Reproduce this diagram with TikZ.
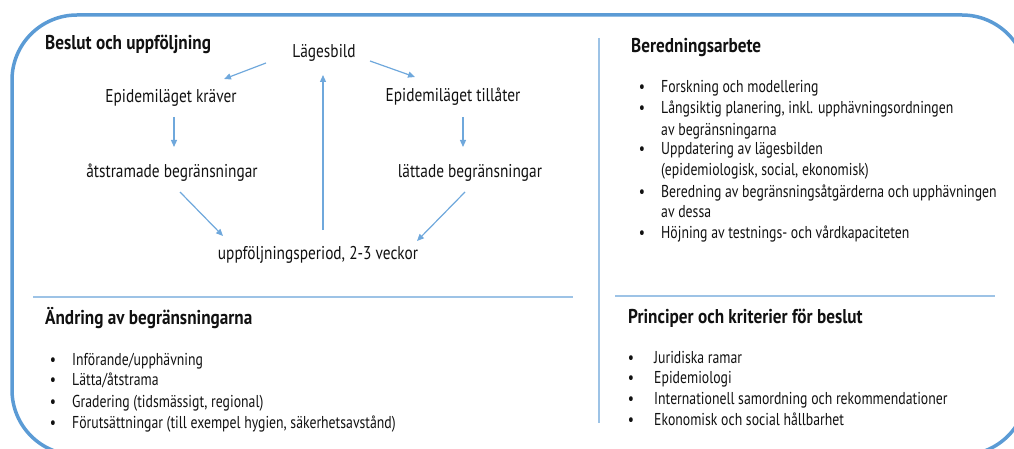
\documentclass[tikz,border=0pt]{standalone}
\usepackage{fontspec}
\setmainfont{PT Sans}[FakeStretch=0.80]
\newfontfamily\diagfont{PT Sans}[FakeStretch=0.83]
\newfontfamily\headfont{PT Sans}[FakeStretch=0.86]
\usetikzlibrary{arrows.meta}
\definecolor{bordc}{HTML}{5B9BD5}
\definecolor{divc}{HTML}{9DC3E6}
\definecolor{arrc}{HTML}{6FA8DC}
\definecolor{txtc}{HTML}{111111}
\begin{document}
\begin{tikzpicture}[x=1pt,y=-1pt,
  plain/.style={font=\fontsize{17.2}{20}\selectfont, text=txtc, inner sep=0pt},
  item/.style={plain, anchor=base west},
  bul/.style={plain, anchor=base},
  head/.style={font=\headfont\fontsize{20}{22}\selectfont\bfseries, text=txtc, inner sep=0pt, anchor=base west},
  box/.style={font=\diagfont\fontsize{18.5}{22}\selectfont, text=txtc, inner sep=0pt, text height=14pt, text depth=4pt, anchor=center},
  divider/.style={draw=divc, line width=1.3pt},
  arr/.style={draw=arrc, line width=1.2pt, -{Triangle[length=7pt,width=6pt]}}]
\useasboundingbox (0,0) rectangle (1014,449);
\begin{scope}
\clip (0,0) rectangle (1014,449);
\draw[bordc, line width=3.5pt, rounded corners=65pt] (12,15) rectangle (1027,455);
\end{scope}
% dividers
\draw[divider] (599,38) -- (599,423);
\draw[divider] (33,297) -- (573,297);
\draw[divider] (615,296) -- (995,296);
% headings
\node[head] (h1) at (45,50) {Beslut och uppföljning};
\node[head] (h2) at (631,53) {Beredningsarbete};
\node[head] (h3) at (45,324) {Ändring av begränsningarna};
\node[head] (h4) at (628,323) {Principer och kriterier för beslut};
% cycle diagram
\node[box] (lag) at (324,53) {Lägesbild};
\node[box] (krav) at (171,98) {Epidemiläget kräver};
\node[box] (till) at (453,97) {Epidemiläget tillåter};
\node[box] (atst) at (172,173) {åtstramade begränsningar};
\node[box] (latt) at (470,173) {lättade begränsningar};
\node[box] (uppf) at (318,254) {uppföljningsperiod, 2-3 veckor};
\draw[arr] ([xshift=-58pt,yshift=-10pt]lag.center) -- ([xshift=53pt,yshift=19pt]krav.center);
\draw[arr] ([xshift=46pt,yshift=-8pt]lag.center) -- ([xshift=-38pt,yshift=20pt]till.center);
\draw[arr] ([xshift=3pt,yshift=-19pt]krav.center) -- ([xshift=2pt,yshift=26pt]atst.center);
\draw[arr] ([xshift=10pt,yshift=-20pt]till.center) -- ([xshift=-7pt,yshift=26pt]latt.center);
\draw[arr] ([xshift=8pt,yshift=-19pt]atst.center) -- ([xshift=-95pt,yshift=18pt]uppf.center);
\draw[arr] ([xshift=-5pt,yshift=-19pt]latt.center) -- ([xshift=99pt,yshift=13pt]uppf.center);
\draw[arr] ([xshift=5pt,yshift=24pt]uppf.center) -- ([xshift=-1pt,yshift=-22pt]lag.center);
% right top list
\node[bul] (rb1) at (642,92.5) {•};
\node[item] (r1) at (661,92.5) {Forskning och modellering};
\node[bul] (rb2) at (642,113.5) {•};
\node[item] (r2) at (661,113.5) {Långsiktig planering, inkl. upphävningsordningen};
\node[item] (r3) at (661,135.5) {av begränsningarna};
\node[bul] (rb4) at (642,154.5) {•};
\node[item] (r4) at (661,154.5) {Uppdatering av lägesbilden};
\node[item] (r5) at (661,175.5) {(epidemiologisk, social, ekonomisk)};
\node[bul] (rb6) at (642,197.5) {•};
\node[item] (r6) at (661,197.5) {Beredning av begränsningsåtgärderna och upphävningen};
\node[item] (r7) at (661,217.5) {av dessa};
\node[bul] (rb8) at (642,238.5) {•};
\node[item] (r8) at (661,238.5) {Höjning av testnings- och vårdkapaciteten};
% left bottom list
\node[bul] (lb1) at (53,365.5) {•};
\node[item] (l1) at (72,365.5) {Införande/upphävning};
\node[bul] (lb2) at (53,385.5) {•};
\node[item] (l2) at (72,385.5) {Lätta/åtstrama};
\node[bul] (lb3) at (53,407.5) {•};
\node[item] (l3) at (72,407.5) {Gradering (tidsmässigt, regional)};
\node[bul] (lb4) at (53,428.5) {•};
\node[item] (l4) at (72,428.5) {Förutsättningar (till exempel hygien, säkerhetsavstånd)};
% right bottom list
\node[bul] (pb1) at (631,363.5) {•};
\node[item] (p1) at (654,363.5) {Juridiska ramar};
\node[bul] (pb2) at (631,383.5) {•};
\node[item] (p2) at (654,383.5) {Epidemiologi};
\node[bul] (pb3) at (631,404.5) {•};
\node[item] (p3) at (654,404.5) {Internationell samordning och rekommendationer};
\node[bul] (pb4) at (631,425.5) {•};
\node[item] (p4) at (654,425.5) {Ekonomisk och social hållbarhet};
\end{tikzpicture}
\end{document}
